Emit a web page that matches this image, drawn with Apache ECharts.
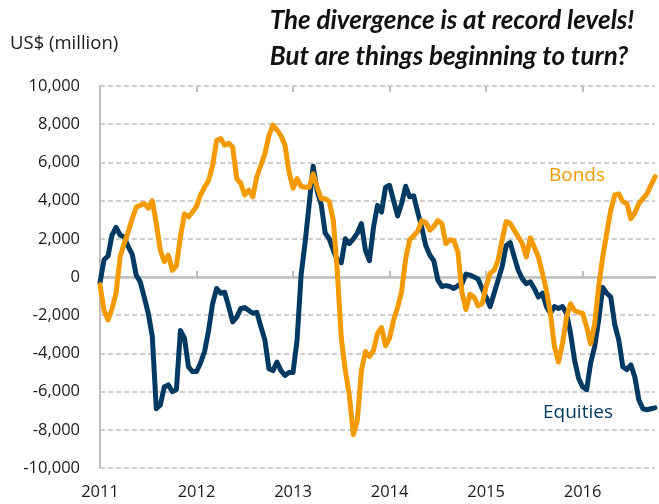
<!DOCTYPE html>
<html><head><meta charset="utf-8">
<script src="https://cdn.jsdelivr.net/npm/echarts@6/dist/echarts.min.js"></script>
<style>html,body{margin:0;padding:0;background:#fff}#c{width:659px;height:504px}</style>
</head><body><div id="c"></div>
<script>
// Half-monthly observations, Jan 2011 - Sep 2016 (US$ million)
const equities = [
  -300, 900, 1100, 2200, 2600, 2200, 2100, 1600, 1200, 100, -250, -1050,
  -1900, -3100, -6900, -6700, -5750, -5650, -6000, -5900, -2800, -3200, -4700, -4950,
  -4950, -4500, -3900, -2800, -1400, -600, -850, -800, -1550, -2350, -2100, -1650,
  -1600, -1750, -1900, -1850, -2600, -3300, -4800, -4900, -4450, -4900, -5150, -5000,
  -5000, -3300, 100, 1800, 3800, 5800, 4500, 3800, 2300, 2000, 1400, 900,
  750, 2000, 1750, 2000, 2300, 2800, 1400, 850, 2600, 3750, 3400, 4700,
  4800, 4000, 3200, 3850, 4750, 4200, 4250, 3400, 2600, 1650, 1150, 850,
  -150, -500, -450, -500, -600, -450, -350, 150, 100, 0, -100, -600,
  -1050, -1550, -850, -150, 550, 1650, 1800, 1050, 350, -100, -350, -250,
  -600, -1050, -850, -1550, -1900, -1550, -1650, -1550, -1900, -2950, -4350, -5300,
  -5750, -5900, -4500, -3650, -2250, -550, -850, -1050, -2500, -3300, -4700, -4850,
  -4600, -5250, -6450, -6900, -6950, -6900, -6850
];
const bonds = [
  -400, -1750, -2250, -1650, -850, 1050, 1750, 2350, 3050, 3650, 3750, 3850,
  3600, 4000, 2800, 1400, 800, 1150, 350, 600, 2100, 3300, 3150, 3400,
  3700, 4300, 4700, 5050, 5850, 7150, 7250, 6900, 7000, 6800, 5150, 4900,
  4300, 4550, 4200, 5250, 5850, 6450, 7400, 7950, 7700, 7400, 6900, 5500,
  4650, 5150, 4750, 4700, 4700, 5400, 4700, 4100, 4100, 3950, 3000, 300,
  -3200, -4900, -6200, -8250, -7500, -4900, -3900, -4150, -3850, -2950, -2650, -3600,
  -3200, -2250, -1600, -750, 950, 1950, 2150, 2400, 2950, 2850, 2450, 2650,
  2950, 2800, 1750, 1950, 1900, 1300, -800, -1700, -900, -1050, -1500, -1400,
  -500, 200, 350, 900, 1950, 2900, 2800, 2450, 2100, 1750, 1050, 2050,
  1550, 1050, 200, -700, -1900, -3650, -4450, -3500, -2100, -1400, -1750, -1850,
  -1900, -2600, -3500, -2450, -500, 1050, 2300, 3500, 4300, 4350, 3950, 3850,
  3050, 3350, 3850, 4100, 4350, 4800, 5250
];
const yearLabels = ['2011', '2012', '2013', '2014', '2015', '2016'];
const yMin = -10000, yMax = 10000, yStep = 2000;

const dates = [];
for (let y = 2011; y <= 2016; y++) {
  for (let m = 1; m <= 12; m++) {
    const mm = String(m).padStart(2, '0');
    dates.push(y + '-' + mm + '-01', y + '-' + mm + '-16');
  }
}
const cats = dates.slice(0, equities.length);
const isYearStart = (i) => i % 24 === 0;

const FONT = '"Open Sans"';
const TFONT = 'Lato';
const GRAY = '#bfbfbf';
const ORANGE = '#f39a00';
const NAVY = '#003a63';

const chart = echarts.init(document.getElementById('c'), null, {renderer: 'canvas'});
chart.setOption({
  animation: false,
  backgroundColor: '#ffffff',
  grid: {left: 100, right: 4, top: 86, bottom: 36, containLabel: false},
  xAxis: [
    {
      type: 'category', data: cats, boundaryGap: false, position: 'bottom',
      axisLine: {onZero: true, lineStyle: {color: GRAY, width: 2.5}},
      axisTick: {show: true, inside: true, length: 6, interval: isYearStart, lineStyle: {color: GRAY, width: 2}},
      axisLabel: {show: false}, splitLine: {show: false}
    },
    {
      type: 'category', data: cats, boundaryGap: false, position: 'top',
      axisLine: {onZero: true, show: false},
      axisTick: {show: true, inside: true, length: 6, interval: isYearStart, lineStyle: {color: GRAY, width: 2}},
      axisLabel: {show: false}, splitLine: {show: false}
    },
    {
      type: 'category', data: cats, boundaryGap: false, position: 'bottom',
      axisLine: {onZero: false, show: false}, axisTick: {show: false},
      axisLabel: {
        interval: isYearStart, margin: 16,
        formatter: (v) => yearLabels.find(y => v.startsWith(y)) || '',
        color: '#1a1a1a', fontSize: 16.5, fontFamily: FONT
      },
      splitLine: {show: false}
    }
  ],
  yAxis: {
    type: 'value', min: yMin, max: yMax, interval: yStep,
    axisLine: {show: true, onZero: false, lineStyle: {color: GRAY, width: 2}},
    axisTick: {show: false},
    axisLabel: {
      margin: 20, color: '#1a1a1a', fontSize: 16.5, fontFamily: FONT,
      formatter: (v) => v.toLocaleString('en-US')
    },
    splitLine: {show: true, lineStyle: {color: GRAY, width: 1.5, type: [5, 3]}}
  },
  series: [
    {
      name: 'Equities', type: 'line', data: equities, xAxisIndex: 0, yAxisIndex: 0,
      showSymbol: false, symbol: 'none',
      lineStyle: {color: NAVY, width: 5, cap: 'round', join: 'round'}, z: 3
    },
    {
      name: 'Bonds', type: 'line', data: bonds, xAxisIndex: 0, yAxisIndex: 0,
      showSymbol: false, symbol: 'none',
      lineStyle: {color: ORANGE, width: 5, cap: 'round', join: 'round'}, z: 4
    }
  ],
  graphic: [
    {type: 'text', x: 10, y: 44, style: {text: 'US$ (million)', fill: '#1a1a1a', font: '18.5px ' + FONT, textVerticalAlign: 'middle'}},
    {type: 'text', x: 452, y: 21, style: {text: 'The divergence is at record levels!', fill: '#111', font: 'italic bold 26px ' + TFONT, textAlign: 'center', textVerticalAlign: 'middle'}},
    {type: 'text', x: 449, y: 57, style: {text: 'But are things beginning to turn?', fill: '#111', font: 'italic bold 26px ' + TFONT, textAlign: 'center', textVerticalAlign: 'middle'}},
    {type: 'text', x: 577, y: 176, style: {text: 'Bonds', fill: ORANGE, font: '19px ' + FONT, textAlign: 'center', textVerticalAlign: 'middle'}},
    {type: 'text', x: 578, y: 413, style: {text: 'Equities', fill: NAVY, font: '19px ' + FONT, textAlign: 'center', textVerticalAlign: 'middle'}}
  ]
});
</script>
</body></html>
